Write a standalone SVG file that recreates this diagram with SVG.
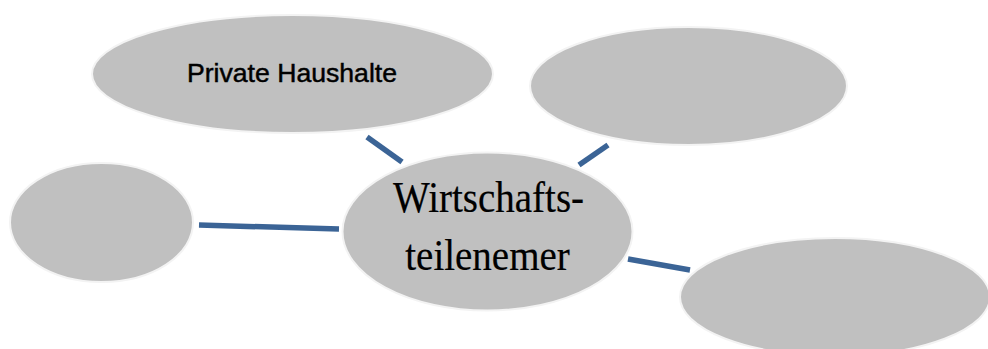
<svg xmlns="http://www.w3.org/2000/svg" width="988" height="349" viewBox="0 0 988 349">
<style>
.node{fill:#c0c0c0;stroke:#f3f3f3;stroke-width:2}
.conn{stroke:#3b6496;stroke-width:5.5;fill:none;stroke-linecap:butt}
.sans{font-family:"Liberation Sans",Arial,sans-serif;fill:#000;stroke:#000;stroke-width:0.45}
.serif{font-family:"Liberation Serif","Times New Roman",serif;fill:#000;stroke:#000;stroke-width:0.2}
</style>
<rect width="988" height="349" fill="#fff"/>
<g id="connectors">
<line class="conn" x1="367" y1="137" x2="402" y2="162"/>
<line class="conn" x1="608" y1="145" x2="579" y2="165"/>
<line class="conn" x1="199" y1="225" x2="339" y2="229"/>
<line class="conn" x1="628" y1="259" x2="690" y2="270"/>
</g>
<g id="node-private-haushalte">
<ellipse class="node" cx="292.5" cy="74" rx="200.5" ry="59"/>
<text class="sans" x="292" y="82" font-size="25" text-anchor="middle" textLength="210" lengthAdjust="spacingAndGlyphs">Private Haushalte</text>
</g>
<g id="node-top-right">
<ellipse class="node" cx="688.5" cy="86" rx="158.5" ry="59"/>
</g>
<g id="node-left">
<ellipse class="node" cx="101.5" cy="222.5" rx="91.5" ry="59.5"/>
</g>
<g id="node-bottom-right">
<ellipse class="node" cx="835" cy="297" rx="155" ry="59"/>
</g>
<g id="node-wirtschaftsteilnehmer">
<ellipse class="node" cx="487.5" cy="231.5" rx="145" ry="79"/>
<text class="serif" font-size="39" text-anchor="middle" transform="translate(488.5 212) scale(1 1.12)">Wirtschafts-</text>
<text class="serif" font-size="39" text-anchor="middle" transform="translate(487.5 270) scale(1 1.12)">teilenemer</text>
</g>
</svg>
